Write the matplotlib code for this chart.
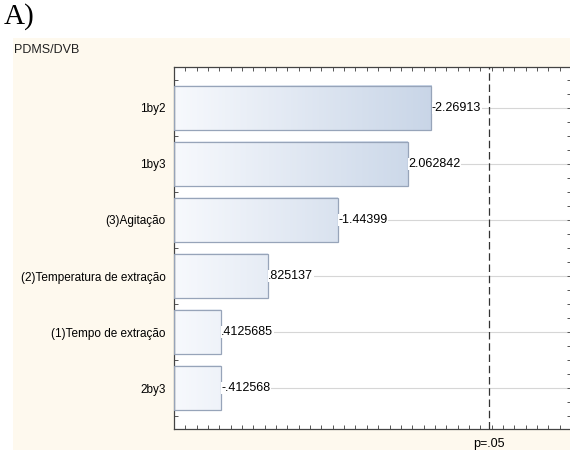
import matplotlib
matplotlib.use("Agg")
import matplotlib.pyplot as plt
import numpy as np
from matplotlib.ticker import MultipleLocator, NullFormatter
from matplotlib.colors import LinearSegmentedColormap
from matplotlib.patches import Rectangle

plt.rcParams['font.family'] = ['Liberation Sans', 'DejaVu Sans']

categories = ["1by2", "1by3", "(3)Agitação", "(2)Temperatura de extração",
              "(1)Tempo de extração", "2by3"]
effects = [2.26913, 2.062842, 1.44399, 0.825137, 0.4125685, 0.412568]
value_labels = ["-2.26913", "2.062842", "-1.44399", ".825137", ".4125685", "-.412568"]
p_value_line = 2.776445
p_label = "p=.05"
panel_title = "PDMS/DVB"
fig_label = "A)"

W, H = 570, 450
fig = plt.figure(figsize=(W / 100, H / 100), dpi=100)
fig.patch.set_facecolor("white")

# cream panel
fig.patches.append(Rectangle((13 / W, 0), 1 - 13 / W, (H - 38) / H,
                             transform=fig.transFigure, facecolor="#fef9ee",
                             edgecolor="none", zorder=-10))
fig.text(4 / W, 1 - 17 / H, fig_label, fontsize=21, family="Liberation Serif",
         va="center", ha="left")
fig.text(14 / W, 1 - 50 / H, panel_title, fontsize=9, va="center", ha="left",
         color="#222222")

ax = fig.add_axes([174 / W, (H - 429) / H, (571 - 174) / W, (429 - 67) / H])
ax.set_zorder(5)
ax.set_facecolor("white")
n = len(categories)
ypos = np.arange(n)

cmap = LinearSegmentedColormap.from_list("g", ["#f7f9fd", "#c8d5e7"])
gmax = 2.3
h = 0.79
for y, v, lab in zip(ypos, effects, value_labels):
    ax.axhline(y, color="#d6d6d6", lw=0.8, zorder=1)
    grad = np.linspace(0, v / gmax, 256).reshape(1, -1)
    ax.imshow(grad, cmap=cmap, vmin=0, vmax=1, aspect="auto",
              extent=(0, v, y + h / 2, y - h / 2), zorder=2)
    ax.add_patch(Rectangle((0, y - h / 2), v, h, facecolor="none",
                           edgecolor="#97a4b9", lw=0.9, zorder=3))
    ax.text(v + 0.005, y, lab, va="center", ha="left", fontsize=9,
            color="black", zorder=4,
            bbox=dict(facecolor="white", edgecolor="none", pad=0.3))
ax.set_xlim(0, 3.5)
ax.set_ylim(n - 1 + 0.73, -0.73)

ax.axvline(p_value_line, color="#333333", lw=0.9, ls=(0, (6, 3)), zorder=5)
ax.text(p_value_line, -0.025, p_label, transform=ax.get_xaxis_transform(),
        ha="center", va="top", fontsize=9)

ax.set_yticks(ypos)
ax.set_yticklabels(categories, fontsize=8.5)
ax.yaxis.set_minor_locator(MultipleLocator(0.25))
ax.xaxis.set_major_locator(MultipleLocator(0.1))
ax.xaxis.set_major_formatter(NullFormatter())
ax.tick_params(axis="x", which="both", direction="in", length=3, width=0.7,
               color="#555555", top=True, bottom=True)
ax.tick_params(axis="y", which="both", direction="in", length=3, width=0.7,
               color="#555555", left=True, right=True, pad=6)
for s in ax.spines.values():
    s.set_color("#444444")
    s.set_linewidth(0.9)

fig.savefig("out.png", dpi=100)
